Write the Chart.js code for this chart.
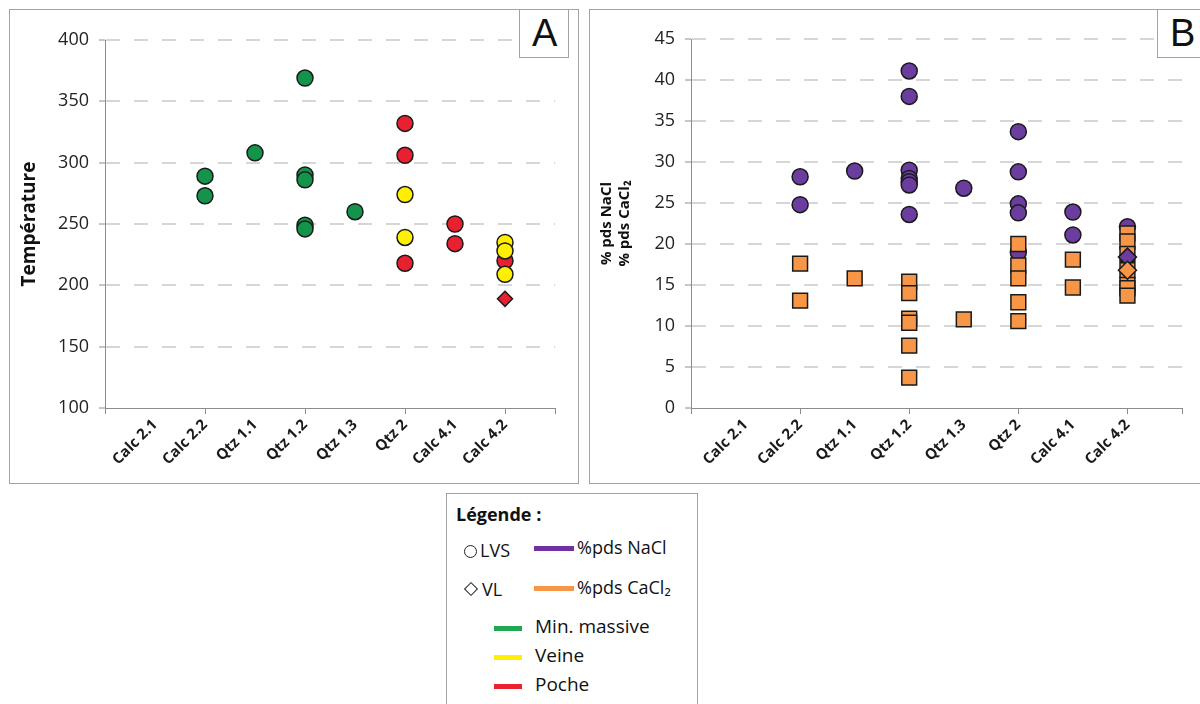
<!DOCTYPE html>
<html>
<head>
<meta charset="utf-8">
<script src="https://cdn.jsdelivr.net/npm/chart.js@4.4.1/dist/chart.umd.min.js"></script>
<style>
  body { margin: 0; width: 1200px; height: 704px; overflow: hidden; background: #fff; position: relative; font-family: "Open Sans", sans-serif; color: #111; }
  .frame { position: absolute; border: 1px solid #a3a3a3; box-sizing: border-box; }
  .tag { position: absolute; border: 1px solid #a3a3a3; background: #fff; box-sizing: border-box; font: 38px "Liberation Sans", Arial, sans-serif; color: #111; line-height: 46px; padding-left: 12px; z-index: 2; }
  canvas { position: absolute; }
  .lg { position: absolute; white-space: nowrap; line-height: 1; }
  .bar { position: absolute; height: 5px; }
</style>
</head>
<body>
<div class="frame" style="left:9px;top:9px;width:570px;height:475px"></div>
<div class="frame" style="left:589px;top:9px;width:640px;height:475px"></div>
<canvas id="chartA" width="568" height="473" style="left:10px;top:10px"></canvas>
<canvas id="chartB" width="620" height="473" style="left:590px;top:10px"></canvas>
<div class="tag" style="left:519px;top:9px;width:50px;height:49px">A</div>
<div class="tag" style="left:1157px;top:9px;width:60px;height:49px">B</div>

<div class="frame" style="left:446px;top:493px;width:252px;height:230px"></div>
<div class="lg" style="left:456px;top:505px;font-size:18px;font-weight:bold">Légende :</div>
<div style="position:absolute;left:464px;top:545px;width:11px;height:11px;border:1.5px solid #222;border-radius:50%"></div>
<div class="lg" style="left:480px;top:541px;font-size:18px">LVS</div>
<div class="bar" style="left:534px;top:546px;width:40px;background:#7030a0"></div>
<div class="lg" style="left:577px;top:538px;font-size:18px">%pds NaCl</div>
<div style="position:absolute;left:466px;top:584px;width:8px;height:8px;border:1.5px solid #222;transform:rotate(45deg)"></div>
<div class="lg" style="left:482px;top:580px;font-size:18px">VL</div>
<div class="bar" style="left:534px;top:586px;width:40px;background:#f79646"></div>
<div class="lg" style="left:577px;top:578px;font-size:18px">%pds CaCl₂</div>
<div class="bar" style="left:494px;top:626px;width:28px;background:#1fa84f"></div>
<div class="lg" style="left:535px;top:617px;font-size:19px">Min. massive</div>
<div class="bar" style="left:494px;top:655px;width:28px;background:#ffef00"></div>
<div class="lg" style="left:535px;top:646px;font-size:19px">Veine</div>
<div class="bar" style="left:494px;top:684px;width:28px;background:#e8202f"></div>
<div class="lg" style="left:535px;top:675px;font-size:19px">Poche</div>

<script>
const categories = ["Calc 2.1", "Calc 2.2", "Qtz 1.1", "Qtz 1.2", "Qtz 1.3", "Qtz 2", "Calc 4.1", "Calc 4.2"];
const catTicks = [0, 1, 2, 3, 4, 5, 6, 7, 8, 9];

// A - température
const tempTicks = [100, 150, 200, 250, 300, 350, 400];
const massiveCat = ["Calc 2.2", "Calc 2.2", "Qtz 1.1", "Qtz 1.2", "Qtz 1.2", "Qtz 1.2", "Qtz 1.2", "Qtz 1.2", "Qtz 1.3"];
const massiveTemp = [289, 273, 308, 369, 290, 286, 249, 246, 260];
const pocheCat = ["Qtz 2", "Qtz 2", "Qtz 2", "Calc 4.1", "Calc 4.1", "Calc 4.2"];
const pocheTemp = [332, 306, 218, 250, 234, 220];
const veineCat = ["Qtz 2", "Qtz 2", "Calc 4.2", "Calc 4.2", "Calc 4.2"];
const veineTemp = [274, 239, 235, 228, 209];
const pocheVLCat = ["Calc 4.2"];
const pocheVLTemp = [189];

// B - salinité
const salTicks = [0, 5, 10, 15, 20, 25, 30, 35, 40, 45];
const naclCat = ["Calc 2.2", "Calc 2.2", "Qtz 1.1", "Qtz 1.2", "Qtz 1.2", "Qtz 1.2", "Qtz 1.2", "Qtz 1.2", "Qtz 1.2", "Qtz 1.2",
  "Qtz 1.3", "Qtz 2", "Qtz 2", "Qtz 2", "Qtz 2", "Qtz 2", "Calc 4.1", "Calc 4.1", "Calc 4.2"];
const naclVal = [28.2, 24.8, 28.9, 41.1, 38.0, 29.0, 28.0, 27.6, 27.2, 23.6,
  26.8, 33.7, 28.8, 24.9, 23.8, 19.0, 23.9, 21.1, 22.1];
const caclCat = ["Calc 2.2", "Calc 2.2", "Qtz 1.1", "Qtz 1.2", "Qtz 1.2", "Qtz 1.2", "Qtz 1.2", "Qtz 1.2", "Qtz 1.2",
  "Qtz 1.3", "Qtz 2", "Qtz 2", "Qtz 2", "Qtz 2", "Qtz 2", "Calc 4.1", "Calc 4.1",
  "Calc 4.2", "Calc 4.2", "Calc 4.2", "Calc 4.2", "Calc 4.2", "Calc 4.2", "Calc 4.2"];
const caclVal = [17.6, 13.1, 15.8, 15.4, 14.0, 10.9, 10.4, 7.6, 3.7,
  10.8, 20.0, 17.4, 15.8, 12.9, 10.6, 18.1, 14.7,
  21.3, 20.3, 18.8, 16.8, 15.0, 14.6, 13.7];
const naclVLCat = ["Calc 4.2"];
const naclVLVal = [18.4];
const caclVLCat = ["Calc 4.2"];
const caclVLVal = [16.8];

const GREEN = "#13944a", YELLOW = "#ffef00", RED = "#e8202f", PURPLE = "#6b3d9e", ORANGE = "#f79646";
const EDGE = "#1a1a1a";

function pts(cats, vals) {
  return vals.map((v, i) => ({ x: categories.indexOf(cats[i]) + 1, y: v }));
}

function series(cats, vals, color, style, radius, order) {
  return {
    data: pts(cats, vals),
    pointStyle: style,
    pointRadius: radius,
    pointHoverRadius: radius,
    backgroundColor: color,
    borderColor: EDGE,
    borderWidth: 1.5,
    order: order,
  };
}

function xScale() {
  return {
    type: "linear",
    min: 0,
    max: 9,
    afterBuildTicks: (s) => { s.ticks = catTicks.map((v) => ({ value: v })); },
    afterFit: (s) => { s.height = 75; },
    ticks: {
      autoSkip: false,
      maxRotation: 45,
      minRotation: 45,
      padding: 2,
      color: "#1a1a1a",
      font: { family: "Open Sans", size: 15, weight: "bold" },
      callback: (v) => categories[v - 1] || "",
    },
    grid: {
      drawOnChartArea: false,
      tickLength: 6,
      color: (c) => (c.tick && (c.tick.value % 2 === 0 || c.tick.value === 9)) ? "#8c8c8c" : "rgba(0,0,0,0)",
    },
    border: { color: "#8c8c8c", width: 1 },
  };
}

function yScale(tickList, title, titleSize, width) {
  const lo = tickList[0];
  return {
    type: "linear",
    min: lo,
    max: tickList[tickList.length - 1],
    afterBuildTicks: (s) => { s.ticks = tickList.map((v) => ({ value: v })); },
    afterFit: (s) => { s.width = width; },
    ticks: { padding: 10, color: "#222", font: { family: "Open Sans", size: 18 } },
    grid: {
      color: (c) => (c.tick && c.tick.value === lo) ? "rgba(0,0,0,0)" : "#d6d6d6",
      lineWidth: 2,
      tickLength: 6,
      tickColor: "#8c8c8c",
      tickWidth: 1,
      tickBorderDash: [],
    },
    border: { color: "#8c8c8c", width: 1, dash: [14, 14] },
    title: {
      display: true,
      text: title,
      color: "#111",
      font: { family: "Open Sans", size: titleSize, weight: "bold", lineHeight: 1.2 },
      padding: { top: 8, bottom: 0 },
    },
  };
}

function baseOptions(padRight, padTop, ySc) {
  return {
    responsive: false,
    animation: false,
    layout: { padding: { top: padTop, right: padRight, left: 0, bottom: 0 } },
    plugins: { legend: { display: false }, tooltip: { enabled: false } },
    scales: { x: xScale(), y: ySc },
  };
}

new Chart(document.getElementById("chartA"), {
  type: "scatter",
  data: {
    datasets: [
      series(pocheVLCat, pocheVLTemp, RED, "rectRot", 7.5, 0),
      series(veineCat, veineTemp, YELLOW, "circle", 8, 1),
      series(pocheCat, pocheTemp, RED, "circle", 8, 2),
      series(massiveCat, massiveTemp, GREEN, "circle", 8, 3),
    ],
  },
  options: baseOptions(23, 30, yScale(tempTicks, "Température", 19, 95)),
});

new Chart(document.getElementById("chartB"), {
  type: "scatter",
  data: {
    datasets: [
      series(caclVLCat, caclVLVal, ORANGE, "rectRot", 9, 0),
      series(naclVLCat, naclVLVal, PURPLE, "rectRot", 9, 1),
      series(caclCat, caclVal, ORANGE, "rect", 10.5, 2),
      series(naclCat, naclVal, PURPLE, "circle", 8, 3),
    ],
  },
  options: baseOptions(28, 29, yScale(salTicks, ["% pds NaCl", "% pds CaCl₂"], 15, 101)),
});
</script>
</body>
</html>
